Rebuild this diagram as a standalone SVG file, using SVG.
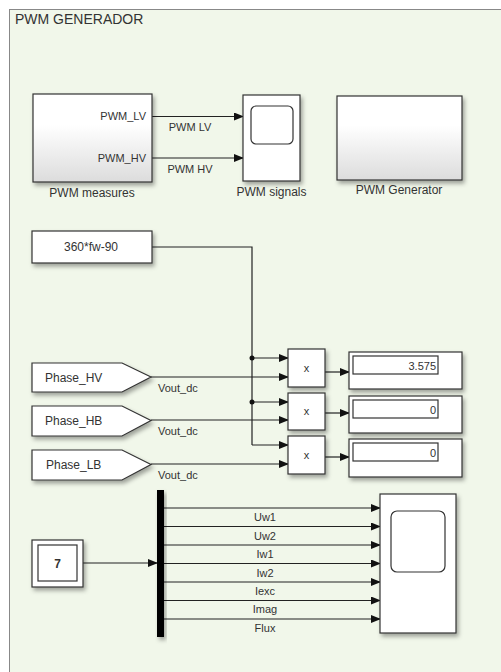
<svg xmlns="http://www.w3.org/2000/svg" width="501" height="672" viewBox="0 0 501 672">
<defs>
<linearGradient id="grad" x1="0" y1="0" x2="0" y2="1">
<stop offset="0" stop-color="#ffffff"/>
<stop offset="0.35" stop-color="#ffffff"/>
<stop offset="1" stop-color="#dcdcdc"/>
</linearGradient>
<filter id="sh" x="-20%" y="-20%" width="150%" height="150%">
<feDropShadow dx="2" dy="3" stdDeviation="2" flood-color="#000" flood-opacity="0.35"/>
</filter>
<marker id="arr" markerWidth="10" markerHeight="8" refX="9" refY="4" orient="auto" markerUnits="userSpaceOnUse">
<path d="M0,0 L10,4 L0,8 Z" fill="#111"/>
</marker>
</defs>
<style>
.blk{fill:#fff;stroke:#333;stroke-width:1.2;filter:url(#sh)}
.gblk{fill:url(#grad);stroke:#333;stroke-width:1.2;filter:url(#sh)}
.ln{fill:none;stroke:#222;stroke-width:1.2}
.la{fill:none;stroke:#222;stroke-width:1.2;marker-end:url(#arr)}
text{font-family:"Liberation Sans",Arial,sans-serif;fill:#333}
.s11{font-size:11px}
.s12{font-size:12px}
.nm{font-size:12px;text-anchor:middle}
</style>
<rect x="0" y="0" width="501" height="672" fill="#fff"/>
<rect id="frame" x="9.5" y="9.5" width="500" height="700" fill="#f1f7ea" stroke="#888" stroke-width="1"/>
<text x="15" y="23.5" font-size="14" fill="#555">PWM GENERADOR</text>

<g id="connectors">
<path class="la" d="M152,116.5 H243"/>
<path class="la" d="M152,158 H243"/>
<path class="ln" d="M152,247 H252 V445"/>
<path class="la" d="M252,358 H288"/>
<path class="la" d="M252,402 H288"/>
<path class="la" d="M252,445 H288"/>
<path class="la" d="M151,377 H288"/>
<path class="la" d="M151,420 H288"/>
<path class="la" d="M151,464 H288"/>
<path class="la" d="M325,372 H349"/>
<path class="la" d="M325,413 H349"/>
<path class="la" d="M325,457 H349"/>
<circle cx="252" cy="358" r="2.5" fill="#111"/>
<circle cx="252" cy="402" r="2.5" fill="#111"/>
<path class="la" d="M83,563 H157"/>
<path class="la" d="M164,508 H380"/>
<path class="la" d="M164,526.5 H380"/>
<path class="la" d="M164,545 H380"/>
<path class="la" d="M164,563.5 H380"/>
<path class="la" d="M164,582 H380"/>
<path class="la" d="M164,600.5 H380"/>
<path class="la" d="M164,619 H380"/>
<text class="s11" x="190" y="131" text-anchor="middle">PWM LV</text>
<text class="s11" x="190" y="173" text-anchor="middle">PWM HV</text>
<text class="s11" x="158" y="392">Vout_dc</text>
<text class="s11" x="158" y="435">Vout_dc</text>
<text class="s11" x="158" y="479">Vout_dc</text>
<text class="s11" x="265" y="521" text-anchor="middle">Uw1</text>
<text class="s11" x="265" y="540" text-anchor="middle">Uw2</text>
<text class="s11" x="265" y="558" text-anchor="middle">Iw1</text>
<text class="s11" x="265" y="577" text-anchor="middle">Iw2</text>
<text class="s11" x="265" y="595" text-anchor="middle">Iexc</text>
<text class="s11" x="265" y="613" text-anchor="middle">Imag</text>
<text class="s11" x="265" y="632" text-anchor="middle">Flux</text>
</g>

<g id="pwm_measures">
<rect class="gblk" x="33" y="94" width="119" height="88"/>
<text class="s11" x="146" y="120" text-anchor="end">PWM_LV</text>
<text class="s11" x="146" y="162" text-anchor="end">PWM_HV</text>
<text class="nm" x="92" y="197">PWM measures</text>
</g>

<g id="pwm_signals">
<rect class="blk" x="243" y="95" width="57" height="86"/>
<rect x="251" y="106" width="42" height="38" rx="5" fill="#fff" stroke="#333" stroke-width="1.2"/>
<text class="nm" x="271.5" y="196">PWM signals</text>
</g>

<g id="pwm_generator">
<rect class="gblk" x="337" y="96" width="125" height="84"/>
<text class="nm" x="399" y="194">PWM Generator</text>
</g>

<g id="const_360">
<rect class="blk" x="32" y="231" width="120" height="32"/>
<text class="s12" x="91" y="251" text-anchor="middle">360*fw-90</text>
</g>

<g id="phase_hv">
<path class="blk" d="M32,363 H122 L151,377 L122,392 H32 Z"/>
<text class="s12" x="45" y="382">Phase_HV</text>
</g>
<g id="phase_hb">
<path class="blk" d="M32,406 H122 L151,420.5 L122,436 H32 Z"/>
<text class="s12" x="45" y="425">Phase_HB</text>
</g>
<g id="phase_lb">
<path class="blk" d="M32,450 H122 L151,464.5 L122,480 H32 Z"/>
<text class="s12" x="46" y="469">Phase_LB</text>
</g>

<g id="product1">
<rect class="blk" x="288" y="349" width="37" height="38"/>
<text class="s11" x="306.5" y="372" text-anchor="middle">x</text>
</g>
<g id="product2">
<rect class="blk" x="288" y="393" width="37" height="37"/>
<text class="s11" x="306.5" y="415" text-anchor="middle">x</text>
</g>
<g id="product3">
<rect class="blk" x="288" y="436" width="37" height="38"/>
<text class="s11" x="306.5" y="459" text-anchor="middle">x</text>
</g>

<g id="display1">
<rect class="blk" x="349" y="352" width="113" height="37"/>
<rect x="353" y="356" width="85" height="18" fill="#fff" stroke="#333" stroke-width="1.2"/>
<text class="s11" x="436" y="369.5" text-anchor="end" fill="#444">3.575</text>
</g>
<g id="display2">
<rect class="blk" x="349" y="396" width="113" height="37"/>
<rect x="353" y="400" width="85" height="18" fill="#fff" stroke="#333" stroke-width="1.2"/>
<text class="s11" x="436" y="413.5" text-anchor="end" fill="#444">0</text>
</g>
<g id="display3">
<rect class="blk" x="349" y="439" width="113" height="38"/>
<rect x="353" y="443" width="85" height="18" fill="#fff" stroke="#333" stroke-width="1.2"/>
<text class="s11" x="436" y="456.5" text-anchor="end" fill="#444">0</text>
</g>

<g id="const_7">
<rect class="blk" x="32" y="540" width="51" height="47"/>
<rect x="38" y="545" width="39" height="36" fill="#fff" stroke="#333" stroke-width="1.2"/>
<text class="s12" x="57.5" y="567.5" text-anchor="middle" font-weight="bold">7</text>
</g>

<g id="mux">
<rect x="157" y="490" width="7" height="147" fill="#000" filter="url(#sh)"/>
</g>

<g id="scope">
<rect class="blk" x="380" y="494" width="76" height="139"/>
<rect x="391" y="511" width="54" height="61" rx="6" fill="#fff" stroke="#333" stroke-width="1.2"/>
</g>
</svg>
